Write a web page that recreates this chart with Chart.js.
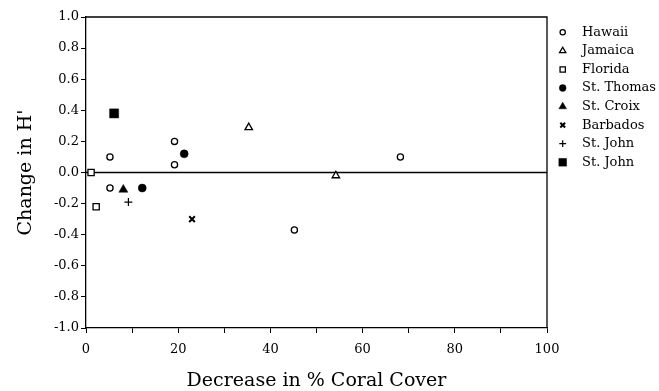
<!DOCTYPE html>
<html>
<head>
<meta charset="utf-8">
<script src="https://cdn.jsdelivr.net/npm/chart.js@4.4.0/dist/chart.umd.min.js"></script>
<style>
  html, body { margin: 0; padding: 0; background: #fff; }
  #wrap { width: 659px; height: 391px; }
</style>
</head>
<body>
<div id="wrap"><canvas id="chart"></canvas></div>
<script>
// values: x = decrease in % coral cover, y = change in H'
const siteNames = ['Hawaii', 'Jamaica', 'Florida', 'St. Thomas', 'St. Croix', 'Barbados', 'St. John', 'St. John'];

const hawaiiX = [5.2, 19.2, 19.2, 5.2, 45.2, 68.2];
const hawaiiY = [0.10, 0.20, 0.05, -0.10, -0.37, 0.10];
const jamaicaX = [35.3, 54.2];
const jamaicaY = [0.29, -0.02];
const floridaX = [1.1, 2.2];
const floridaY = [0.00, -0.22];
const stThomasX = [21.3, 12.2];
const stThomasY = [0.12, -0.10];
const stCroixX = [8.1];
const stCroixY = [-0.11];
const barbadosX = [23.0];
const barbadosY = [-0.30];
const stJohnPlusX = [9.2];
const stJohnPlusY = [-0.19];
const stJohnSqX = [6.1];
const stJohnSqY = [0.38];

const xTicks = [0, 20, 40, 60, 80, 100];

function pts(xs, ys) {
  return xs.map((x, i) => ({ x: x, y: ys[i] }));
}

// marker look per site
const markers = [
  { style: 'circle',   r: 3.1, bw: 1.3, fill: '#fff' },
  { style: 'triangle', r: 4.3, bw: 1.3, fill: '#fff' },
  { style: 'rect',     r: 4.4, bw: 1.3, fill: '#fff' },
  { style: 'circle',   r: 4.0, bw: 0.5, fill: '#000' },
  { style: 'triangle', r: 5.2, bw: 0.5, fill: '#000' },
  { style: 'crossRot', r: 4.0, bw: 2.0, fill: '#000' },
  { style: 'cross',    r: 4.0, bw: 1.2, fill: '#000' },
  { style: 'rect',     r: 6.4, bw: 0.5, fill: '#000' }
];

const seriesData = [
  pts(hawaiiX, hawaiiY),
  pts(jamaicaX, jamaicaY),
  pts(floridaX, floridaY),
  pts(stThomasX, stThomasY),
  pts(stCroixX, stCroixY),
  pts(barbadosX, barbadosY),
  pts(stJohnPlusX, stJohnPlusY),
  pts(stJohnSqX, stJohnSqY)
];

const datasets = siteNames.map((name, i) => ({
  label: name,
  data: seriesData[i],
  pointStyle: markers[i].style,
  pointRadius: markers[i].r,
  pointBorderWidth: markers[i].bw,
  pointBackgroundColor: markers[i].fill,
  pointBorderColor: '#000',
  showLine: false
}));

// top/right frame and the zero line
const framePlugin = {
  id: 'frame',
  beforeDatasetsDraw(chart) {
    const { ctx, chartArea: a } = chart;
    const y0 = chart.scales.y.getPixelForValue(0);
    ctx.save();
    ctx.strokeStyle = '#000';
    ctx.lineWidth = 1.3;
    ctx.beginPath();
    ctx.moveTo(a.left, a.top);
    ctx.lineTo(a.right, a.top);
    ctx.lineTo(a.right, a.bottom);
    ctx.moveTo(a.left, y0);
    ctx.lineTo(a.right, y0);
    ctx.stroke();
    ctx.restore();
  }
};

// legend column to the right of the plot
const legendPlugin = {
  id: 'sideLegend',
  afterDraw(chart) {
    const ctx = chart.ctx;
    const symX = 562.7, textX = 582, top = 32.3, step = 18.57;
    ctx.save();
    chart.data.datasets.forEach((ds, i) => {
      const y = top + i * step;
      const m = markers[i];
      ctx.fillStyle = m.fill;
      ctx.strokeStyle = '#000';
      ctx.lineWidth = m.bw;
      if (Chart.helpers && Chart.helpers.drawPoint) {
        Chart.helpers.drawPoint(ctx, { pointStyle: m.style, radius: m.r * 0.85, borderWidth: m.bw, rotation: 0 }, symX, y);
      }
      ctx.fillStyle = '#000';
      ctx.font = '13px "DejaVu Serif"';
      ctx.textBaseline = 'middle';
      ctx.textAlign = 'left';
      ctx.fillText(ds.label, textX, y);
    });
    ctx.restore();
  }
};

new Chart(document.getElementById('chart'), {
  type: 'scatter',
  data: { datasets: datasets },
  plugins: [framePlugin, legendPlugin],
  options: {
    responsive: true,
    maintainAspectRatio: false,
    animation: false,
    devicePixelRatio: 1,
    layout: { padding: { top: 17, right: 112, left: 0, bottom: 0 } },
    plugins: {
      legend: { display: false },
      tooltip: { enabled: false }
    },
    scales: {
      x: {
        type: 'linear',
        min: 0,
        max: 100,
        afterFit: (s) => { s.height = 63; },
        ticks: {
          stepSize: 10,
          autoSkip: false,
          maxRotation: 0,
          padding: 9,
          color: '#000',
          font: { family: 'DejaVu Serif', size: 13 },
          callback: (v) => (xTicks.includes(v) ? String(v) : '')
        },
        grid: { drawOnChartArea: false, drawTicks: true, tickLength: 5, color: '#000', lineWidth: 1 },
        border: { display: true, color: '#000', width: 1.3 },
        title: {
          display: true,
          text: 'Decrease in % Coral Cover',
          color: '#000',
          font: { family: 'DejaVu Serif', size: 19, lineHeight: 1 },
          padding: { top: 0, bottom: 0 }
        }
      },
      y: {
        type: 'linear',
        min: -1,
        max: 1,
        afterFit: (s) => { s.width = 86; },
        ticks: {
          stepSize: 0.2,
          padding: 2,
          color: '#000',
          font: { family: 'DejaVu Serif', size: 13 },
          callback: (v) => (Math.abs(v) < 1e-9 ? '0.0' : v.toFixed(1))
        },
        grid: { drawOnChartArea: false, drawTicks: true, tickLength: 5, color: '#000', lineWidth: 1 },
        border: { display: true, color: '#000', width: 1.3 },
        title: {
          display: true,
          text: "Change in H'",
          color: '#000',
          font: { family: 'DejaVu Serif', size: 19, lineHeight: 1 },
          padding: { top: 17, bottom: 0 }
        }
      }
    }
  }
});
</script>
</body>
</html>
